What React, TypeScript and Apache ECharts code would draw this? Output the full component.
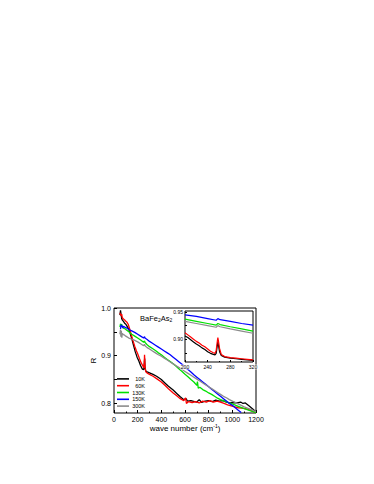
import React, { useEffect, useRef } from "react";
import * as echarts from "echarts";

// ---------- data ----------
const legendNames = ["10K", "60K", "130K", "150K", "300K"];
const seriesColors = ["#000000", "#ff0000", "#00e000", "#0000ff", "#8c8c8c"];

const main10K: [number, number][] = [
  [50, 0.985], [55, 0.995], [60, 0.986], [65, 0.978], [70, 0.975], [80, 0.972], [90, 0.968], [100, 0.966],
  [110, 0.962], [120, 0.958], [135, 0.948], [150, 0.936], [165, 0.922], [180, 0.908], [195, 0.897],
  [210, 0.889], [225, 0.879], [240, 0.872], [252, 0.871], [257, 0.888], [259, 0.894], [262, 0.875],
  [268, 0.868], [280, 0.866], [300, 0.864], [330, 0.861], [360, 0.857], [400, 0.85], [430, 0.843],
  [460, 0.836], [500, 0.828], [530, 0.821], [560, 0.814], [590, 0.808], [610, 0.81], [620, 0.805],
  [650, 0.806], [680, 0.804], [700, 0.803], [720, 0.808], [740, 0.802], [770, 0.805], [800, 0.806],
  [830, 0.804], [860, 0.807], [890, 0.805], [920, 0.806], [950, 0.803], [980, 0.801], [1010, 0.802],
  [1040, 0.801], [1070, 0.803], [1090, 0.8], [1110, 0.801], [1140, 0.795], [1170, 0.789], [1200, 0.782]
];
const main60K: [number, number][] = [
  [50, 0.99], [55, 0.986], [60, 0.984], [65, 0.987], [70, 0.98], [80, 0.977], [90, 0.975], [100, 0.972],
  [110, 0.97], [120, 0.966], [130, 0.958], [145, 0.945], [160, 0.932], [175, 0.92], [190, 0.91],
  [200, 0.904], [215, 0.894], [230, 0.885], [245, 0.878], [252, 0.875], [256, 0.885], [258, 0.902],
  [260, 0.893], [263, 0.874], [270, 0.866], [285, 0.863], [300, 0.861], [330, 0.857], [360, 0.852],
  [400, 0.845], [430, 0.838], [460, 0.831], [500, 0.822], [530, 0.816], [560, 0.81], [590, 0.806],
  [605, 0.812], [612, 0.8], [630, 0.804], [660, 0.802], [690, 0.804], [720, 0.801], [750, 0.805],
  [780, 0.803], [810, 0.806], [840, 0.803], [870, 0.805], [900, 0.803], [930, 0.8], [960, 0.797],
  [990, 0.795], [1020, 0.793], [1050, 0.791], [1080, 0.79], [1110, 0.789], [1140, 0.787],
  [1170, 0.784], [1200, 0.781]
];
const main130K: [number, number][] = [
  [50, 0.96], [55, 0.967], [60, 0.962], [65, 0.966], [70, 0.961], [80, 0.958], [90, 0.957], [100, 0.955],
  [125, 0.95], [150, 0.945], [175, 0.941], [200, 0.937], [225, 0.933], [250, 0.928], [258, 0.931],
  [262, 0.928], [280, 0.923], [300, 0.919], [325, 0.915], [350, 0.911], [375, 0.906], [400, 0.902],
  [425, 0.897], [450, 0.892], [475, 0.888], [500, 0.883], [525, 0.878], [550, 0.872], [575, 0.867],
  [600, 0.861], [625, 0.856], [650, 0.85], [675, 0.845], [700, 0.838], [705, 0.846], [712, 0.832],
  [725, 0.834], [750, 0.829], [775, 0.826], [800, 0.822], [825, 0.819], [850, 0.815], [875, 0.811],
  [900, 0.808], [925, 0.806], [950, 0.803], [975, 0.801], [1000, 0.799], [1050, 0.794],
  [1100, 0.789], [1150, 0.785], [1200, 0.781]
];
const main150K: [number, number][] = [
  [55, 0.956], [60, 0.965], [65, 0.96], [70, 0.963], [75, 0.958], [80, 0.962], [90, 0.96], [100, 0.959],
  [125, 0.955], [150, 0.952], [175, 0.949], [200, 0.945], [225, 0.941], [250, 0.937], [258, 0.94],
  [262, 0.937], [280, 0.934], [300, 0.93], [325, 0.926], [350, 0.922], [375, 0.918], [400, 0.914],
  [425, 0.91], [450, 0.906], [475, 0.902], [500, 0.897], [525, 0.892], [550, 0.887], [575, 0.882],
  [600, 0.876], [625, 0.871], [650, 0.866], [675, 0.86], [700, 0.855], [725, 0.85], [750, 0.845],
  [775, 0.84], [800, 0.835], [825, 0.83], [850, 0.825], [875, 0.82], [900, 0.815], [925, 0.81],
  [950, 0.805], [975, 0.8], [1000, 0.796], [1025, 0.791], [1050, 0.786], [1075, 0.781]
];
const main300K: [number, number][] = [
  [50, 0.945], [55, 0.955], [58, 0.94], [62, 0.952], [66, 0.938], [70, 0.947], [80, 0.944],
  [90, 0.943], [100, 0.941], [125, 0.937], [150, 0.935], [175, 0.932], [200, 0.929], [225, 0.925],
  [250, 0.921], [258, 0.924], [262, 0.921], [280, 0.917], [300, 0.914], [325, 0.91], [350, 0.906],
  [375, 0.902], [400, 0.899], [425, 0.895], [450, 0.891], [475, 0.887], [500, 0.883], [525, 0.879],
  [550, 0.875], [575, 0.871], [600, 0.867], [625, 0.863], [650, 0.859], [675, 0.855], [700, 0.851],
  [725, 0.847], [750, 0.843], [775, 0.839], [800, 0.835], [825, 0.831], [850, 0.827], [875, 0.823],
  [900, 0.819], [925, 0.815], [950, 0.812], [975, 0.808], [1000, 0.805], [1050, 0.799],
  [1100, 0.793], [1150, 0.788], [1200, 0.783]
];

const inset10K: [number, number][] = [
  [200, 0.906], [205, 0.903], [210, 0.899], [215, 0.895], [220, 0.891], [225, 0.888], [230, 0.884],
  [235, 0.881], [240, 0.877], [245, 0.874], [250, 0.872], [253, 0.871], [255, 0.874], [257, 0.888],
  [258, 0.895], [259, 0.889], [261, 0.877], [264, 0.87], [270, 0.867], [280, 0.865], [290, 0.864],
  [300, 0.863], [310, 0.862], [320, 0.861]
];
const inset60K: [number, number][] = [
  [200, 0.912], [205, 0.908], [210, 0.904], [215, 0.9], [220, 0.896], [225, 0.893], [230, 0.889],
  [235, 0.886], [240, 0.882], [245, 0.878], [250, 0.875], [253, 0.874], [255, 0.879], [257, 0.896],
  [258, 0.903], [259, 0.897], [261, 0.883], [264, 0.872], [270, 0.868], [280, 0.866], [290, 0.865],
  [300, 0.864], [310, 0.863], [320, 0.862]
];
const inset130K: [number, number][] = [
  [200, 0.937], [220, 0.933], [240, 0.929], [255, 0.926], [258, 0.929], [262, 0.927], [280, 0.923],
  [300, 0.919], [320, 0.915]
];
const inset150K: [number, number][] = [
  [200, 0.945], [220, 0.942], [240, 0.938], [255, 0.935], [258, 0.938], [262, 0.936], [280, 0.933],
  [300, 0.929], [320, 0.926]
];
const inset300K: [number, number][] = [
  [200, 0.933], [220, 0.929], [240, 0.925], [255, 0.922], [258, 0.925], [262, 0.923], [280, 0.919],
  [300, 0.915], [320, 0.911]
];

const mainSets = [main10K, main60K, main130K, main150K, main300K];
const insetSets = [inset10K, inset60K, inset130K, inset150K, inset300K];

const mainXTicks = [0, 200, 400, 600, 800, 1000, 1200];
const mainYLabels = [0.8, 0.9, 1.0];
const insetXTicks = [200, 240, 280, 320];
const insetYLabels = [0.9, 0.95];

const FONT = "Liberation Sans, Arial, sans-serif";

export default function App() {
  const ref = useRef<HTMLDivElement>(null);
  useEffect(() => {
    if (!ref.current) return;
    const chart = echarts.init(ref.current, undefined, { renderer: "svg" });

    const mainSeries = mainSets.map((d, i) => ({
      name: legendNames[i],
      type: "line",
      xAxisIndex: 0,
      yAxisIndex: 0,
      data: d,
      showSymbol: false,
      lineStyle: { color: seriesColors[i], width: 1.3 },
      itemStyle: { color: seriesColors[i] },
      z: 1,
    }));
    const insetSeries = insetSets.map((d, i) => ({
      name: legendNames[i],
      type: "line",
      xAxisIndex: 1,
      yAxisIndex: 1,
      data: d,
      showSymbol: false,
      lineStyle: { color: seriesColors[i], width: 1.2 },
      itemStyle: { color: seriesColors[i] },
      z: 5,
    }));

    chart.setOption({
      animation: false,
      backgroundColor: "#ffffff",
      textStyle: { fontFamily: FONT },
      grid: [
        { left: 114, width: 142, top: 308, height: 105, show: true, borderColor: "#000", borderWidth: 1, backgroundColor: "transparent" },
        { left: 185, width: 68, top: 311, height: 51, show: true, borderColor: "#000", borderWidth: 1, backgroundColor: "#fff", z: 4 },
      ],
      xAxis: [
        {
          type: "value", gridIndex: 0, min: 0, max: 1200, interval: 200,
          name: "wave number (cm{sup|-1})", nameLocation: "middle", nameGap: 10,
          nameTextStyle: { fontSize: 8, color: "#000", fontFamily: FONT, rich: { sup: { fontSize: 5, verticalAlign: "top", padding: [0, 0, 4, 0] } } },
          axisLine: { show: false },
          axisTick: { inside: true, length: 3, lineStyle: { color: "#000" } },
          minorTick: { show: true, splitNumber: 2, length: 1.5, lineStyle: { color: "#000" } },
          axisLabel: { fontSize: 7, color: "#000", margin: 3, customValues: mainXTicks, formatter: (v: number) => String(v) },
          splitLine: { show: false },
        },
        {
          type: "value", gridIndex: 1, min: 200, max: 320, interval: 40,
          axisLine: { show: false },
          axisTick: { inside: true, length: 2, lineStyle: { color: "#000" } },
          minorTick: { show: true, splitNumber: 2, length: 1, lineStyle: { color: "#000" } },
          axisLabel: {
            fontSize: 5, color: "#000", margin: 2, showMinLabel: true, showMaxLabel: true, hideOverlap: false,
            customValues: insetXTicks,
            textBorderColor: "#fff", textBorderWidth: 1,
            formatter: (v: number) => String(v),
          },
          splitLine: { show: false },
          z: 10,
        },
      ],
      yAxis: [
        {
          type: "value", gridIndex: 0, min: 0.78, max: 1.0,
          name: "R", nameLocation: "middle", nameGap: 7, nameRotate: 90,
          nameTextStyle: { fontSize: 8, color: "#000", fontFamily: FONT },
          axisLine: { show: false },
          axisTick: { inside: true, length: 3, customValues: [0.8, 0.85, 0.9, 0.95, 1.0], lineStyle: { color: "#000" } },
          axisLabel: { fontSize: 7, color: "#000", margin: 3, customValues: mainYLabels, formatter: (v: number) => v.toFixed(1) },
          splitLine: { show: false },
        },
        {
          type: "value", gridIndex: 1, min: 0.858, max: 0.952,
          axisLine: { show: false },
          axisTick: { inside: true, length: 2, customValues: [0.875, 0.9, 0.925, 0.95], lineStyle: { color: "#000" } },
          axisLabel: { fontSize: 5, color: "#000", margin: 2, customValues: insetYLabels, formatter: (v: number) => v.toFixed(2) },
          splitLine: { show: false },
          z: 10,
        },
      ],
      legend: {
        left: 117, top: 375.5, orient: "vertical",
        itemWidth: 12, itemHeight: 1.6, itemGap: 0,
        icon: "rect",
        data: legendNames,
        formatter: "{a|{name}}",
        textStyle: { fontSize: 5.5, color: "#000", lineHeight: 6.8, fontFamily: FONT, padding: 0, rich: { a: { width: 11, align: "right", fontSize: 5.5, lineHeight: 6.8, color: "#000" } } },
        padding: 0,
      },
      graphic: [
        {
          type: "text", left: 140, top: 314,
          style: {
            text: "BaFe{s|2}As{s|2}",
            fontSize: 7.5, fontFamily: FONT, fill: "#000",
            rich: { s: { fontSize: 5, padding: [4, 0, 0, 0], fontFamily: FONT } },
          },
        },
      ],
      series: [...mainSeries, ...insetSeries],
    });
    return () => chart.dispose();
  }, []);
  return <div ref={ref} style={{ position: "fixed", left: 0, top: 0, width: 374, height: 484 }} />;
}
